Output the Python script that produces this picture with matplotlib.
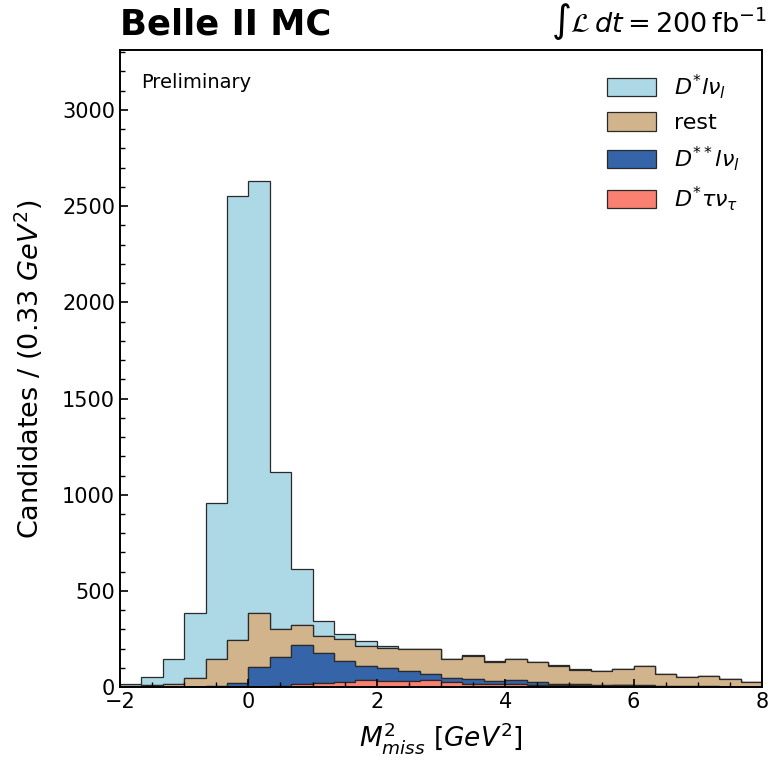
import numpy as np
import matplotlib
matplotlib.use("Agg")
import matplotlib.pyplot as plt
from matplotlib.ticker import MultipleLocator

# bins: -2 .. 8, width 1/3 GeV^2
edges = np.linspace(-2, 8, 31)
centers = 0.5 * (edges[:-1] + edges[1:])

# candidates per bin
dstar_lnu = [12, 40, 128, 338, 812, 2308, 2246, 813, 294, 81,
             28, 22, 9, 3, 2, 2, 1, 1, 1, 1,
             1, 1, 1, 1, 1, 1, 1, 1, 1, 1]
rest = [4, 11, 15, 47, 138, 225, 276, 146, 103, 88,
        114, 106, 103, 114, 126, 95, 121, 100, 111, 103,
        93, 72, 75, 85, 101, 63, 48, 53, 40, 24]
dss_lnu = [1, 1, 2, 2, 6, 18, 104, 150, 205, 155,
           106, 72, 69, 52, 35, 24, 24, 17, 17, 14,
           7, 10, 4, 1, 4, 3, 2, 2, 2, 1]
dstar_taunu = [0, 0, 0, 1, 1, 2, 3, 7, 14, 21,
               28, 38, 31, 31, 36, 26, 19, 16, 19, 12,
               12, 9, 5, 9, 5, 3, 2, 2, 1, 1]

labels = [r'$D^{*}\tau\nu_{\tau}$', r'$D^{**}l\nu_{l}$', 'rest', r'$D^{*}l\nu_{l}$']
colors = ['#fa8072', '#3565a8', '#d2b48c', '#add8e6']

fig = plt.figure(figsize=(7.69, 7.61), dpi=100)
ax = fig.add_axes([0.156, 0.097, 0.835, 0.837])

ax.hist([centers] * 4, bins=edges,
        weights=[dstar_taunu, dss_lnu, rest, dstar_lnu],
        stacked=True, histtype='stepfilled', color=colors,
        edgecolor='#2a2a2a', linewidth=0.9, label=labels)

ax.set_xlim(-2, 8)
ax.set_ylim(0, 3310)
ax.xaxis.set_major_locator(MultipleLocator(2))
ax.xaxis.set_minor_locator(MultipleLocator(0.5))
ax.yaxis.set_major_locator(MultipleLocator(500))
ax.yaxis.set_minor_locator(MultipleLocator(100))
ax.tick_params(which='both', direction='in', labelsize=15)
ax.tick_params(which='major', length=6, width=1.2)
ax.tick_params(which='minor', length=3.5, width=1.0)
for s in ax.spines.values():
    s.set_linewidth(1.4)

ax.set_xlabel(r'$M_{miss}^{2}$ [$GeV^{2}$]', fontsize=19, labelpad=6)
ax.set_ylabel(r'Candidates / (0.33 $GeV^{2}$)', fontsize=19.5, labelpad=12)

handles, labs = ax.get_legend_handles_labels()
order = [labs.index(l) for l in labels[::-1]]
ax.legend([handles[i] for i in order], [labs[i] for i in order],
          loc='upper right', frameon=False,
          fontsize=16, handlelength=2.2, handleheight=0.9, labelspacing=0.5,
          borderaxespad=0.6)

ax.text(0.033, 0.965, 'Preliminary', transform=ax.transAxes, fontsize=14,
        va='top', ha='left')
fig.text(0.156, 0.945, 'Belle II MC', fontsize=25.5, fontweight='bold',
         ha='left', va='bottom')
fig.text(0.716, 0.945, r'$\int\mathcal{L}\,dt=200\,\mathrm{fb}^{-1}$',
         fontsize=19.5, ha='left', va='bottom')

fig.savefig('out.png', dpi=100)
